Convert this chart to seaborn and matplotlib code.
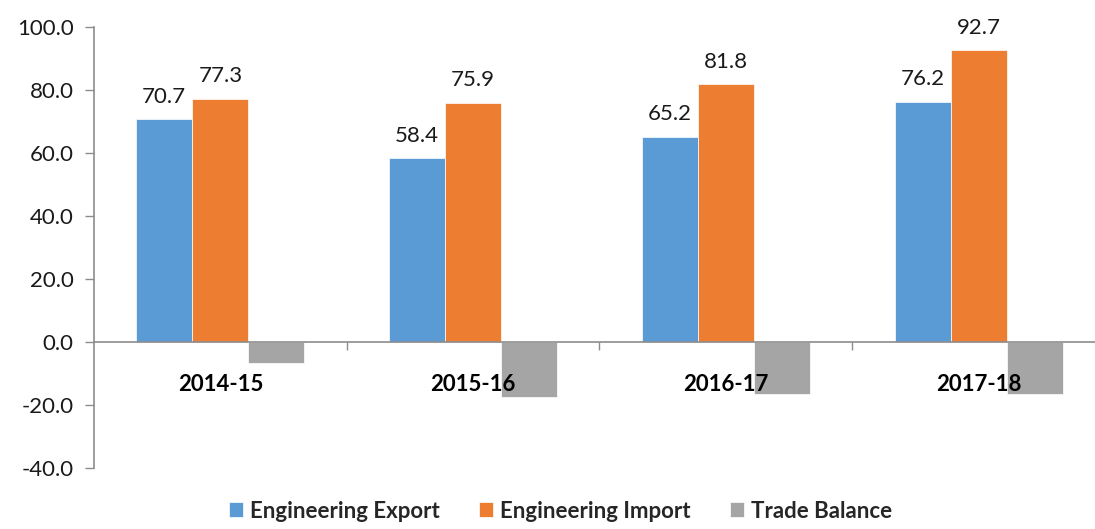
import pandas as pd
import numpy as np
import matplotlib
matplotlib.use('Agg')
import matplotlib.pyplot as plt
import seaborn as sns

# DATA

years = ['2014-15', '2015-16', '2016-17', '2017-18']
export_vals = [70.7, 58.4, 65.2, 76.2]
import_vals = [77.3, 75.9, 81.8, 92.7]
balance_vals = [-6.6, -17.5, -16.6, -16.5]
series = ['Engineering Export', 'Engineering Import', 'Trade Balance']
colors = ['#5B9BD5', '#ED7D31', '#A5A5A5']

df = pd.DataFrame({
    'Year': years * 3,
    'Series': [series[0]] * 4 + [series[1]] * 4 + [series[2]] * 4,
    'Value': export_vals + import_vals + balance_vals,
})

sns.set_style('white')
plt.rcParams['font.family'] = ['Lato', 'DejaVu Sans']

fig = plt.figure(figsize=(10.95, 5.29), dpi=100)
# plot area runs a little past the right edge of the image, as in the original
ax = fig.add_axes([0.0858, 0.1153, 0.9233, 0.8336])

sns.barplot(data=df, x='Year', y='Value', hue='Series', order=years,
            hue_order=series, palette=colors, width=0.665, gap=0,
            saturation=1, ax=ax, legend=True, linewidth=0.5, edgecolor='white')

# value labels for export / import only
for cont in ax.containers[:2]:
    ax.bar_label(cont, fmt='%.1f', padding=9, fontsize=16, color='#1a1a1a')

ax.set_ylim(-40, 100)
ax.set_yticks(np.arange(-40, 101, 20))
ax.yaxis.set_major_formatter(plt.FuncFormatter(lambda v, _: f'{v:.1f}'))
ax.set_xlim(-0.5, len(years) - 0.5)
ax.set_xlabel('')
ax.set_ylabel('')
ax.set_axisbelow(False)

spine_col = '#8c8c8c'
for s in ['top', 'right']:
    ax.spines[s].set_visible(False)
ax.spines['left'].set_color(spine_col)
ax.spines['bottom'].set_color(spine_col)
ax.spines['bottom'].set_position(('data', 0))
ax.spines['left'].set_linewidth(1.2)
ax.spines['bottom'].set_linewidth(1.2)

ax.tick_params(axis='y', which='major', left=True, length=6.5, width=1,
               color=spine_col, labelsize=16, labelcolor='#1a1a1a', pad=8)
ax.set_xticks(range(len(years)))
ax.set_xticklabels(years, fontweight='bold', fontsize=16)
ax.tick_params(axis='x', which='major', bottom=False, length=0, pad=23,
               labelcolor='#000000')
ax.set_xticks(np.arange(0.5, len(years) - 0.5, 1), minor=True)
ax.tick_params(axis='x', which='minor', bottom=True, length=6, width=1,
               color=spine_col)

leg = ax.legend(loc='center', bbox_to_anchor=(0.512, 0.034),
                bbox_transform=fig.transFigure, ncol=3, frameon=False,
                handlelength=0.62, handleheight=0.62, handletextpad=0.3,
                columnspacing=1.8, borderpad=0,
                prop={'weight': 'bold', 'size': 16})

fig.savefig('out.png', dpi=100)
plt.close(fig)
